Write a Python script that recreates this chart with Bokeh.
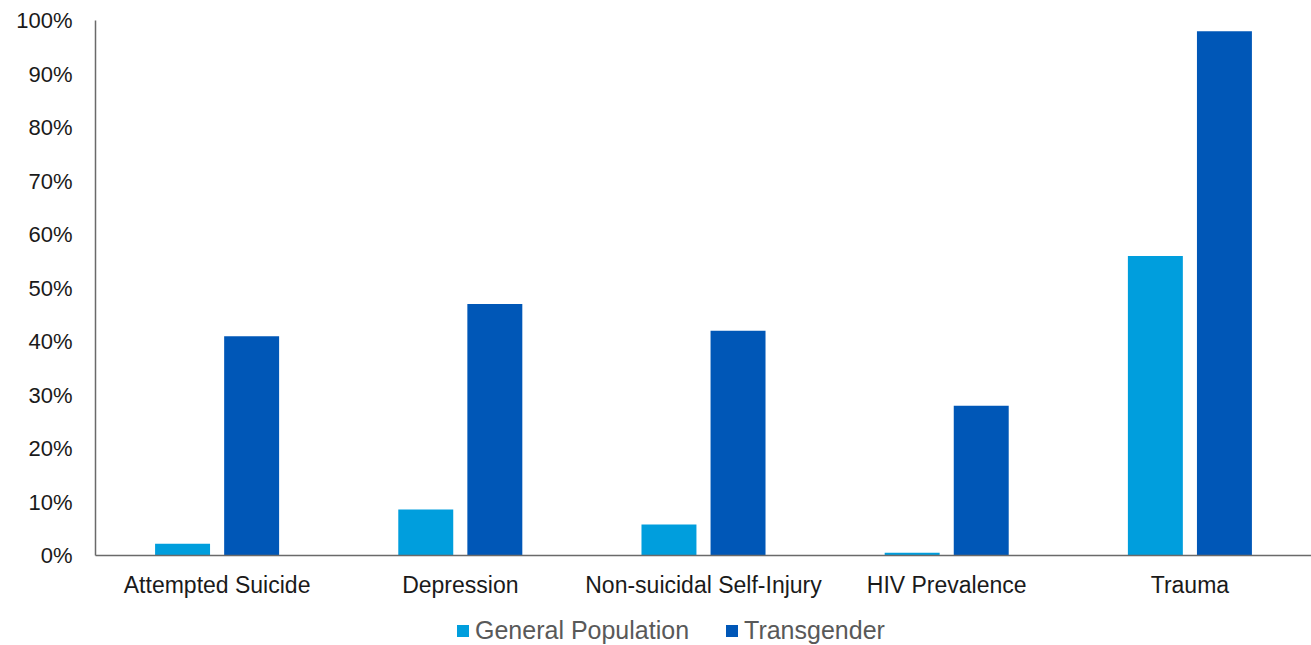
from bokeh.plotting import figure
from bokeh.layouts import column
from bokeh.models import (ColumnDataSource, FactorRange, Range1d, FixedTicker,
                          NumeralTickFormatter, Legend, LegendItem)
from bokeh.transform import dodge
from bokeh.embed import file_html
from bokeh.resources import INLINE

categories = ["Attempted Suicide", "Depression", "Non-suicidal Self-Injury",
              "HIV Prevalence", "Trauma"]
general_population = [0.022, 0.086, 0.058, 0.005, 0.56]
transgender = [0.41, 0.47, 0.42, 0.28, 0.98]
y_ticks = [0, 0.1, 0.2, 0.3, 0.4, 0.5, 0.6, 0.7, 0.8, 0.9, 1.0]
series_names = ["General Population", "Transgender"]

GEN_COLOR = "#009EDD"
TRANS_COLOR = "#0057B7"
FONT = "Liberation Sans"

source = ColumnDataSource(dict(cat=categories, gen=general_population, trans=transgender))

p = figure(width=1311, height=600, output_backend="svg", toolbar_location=None,
           x_range=FactorRange(*categories, range_padding=0),
           y_range=Range1d(0, 1.0),
           min_border_left=95, min_border_right=0, min_border_top=20,
           min_border_bottom=45)

p.outline_line_color = None
p.xgrid.grid_line_color = None
p.ygrid.grid_line_color = None
p.background_fill_color = "white"
p.border_fill_color = "white"

p.vbar(x=dodge("cat", -0.142, range=p.x_range), top="gen", width=0.226,
       source=source, fill_color=GEN_COLOR, line_color=None)
p.vbar(x=dodge("cat", 0.142, range=p.x_range), top="trans", width=0.226,
       source=source, fill_color=TRANS_COLOR, line_color=None)

# y axis
p.yaxis.ticker = FixedTicker(ticks=y_ticks)
p.yaxis.formatter = NumeralTickFormatter(format="0%")
p.yaxis.major_tick_line_color = None
p.yaxis.minor_tick_line_color = None
p.yaxis.axis_line_color = "#6a6a6a"
p.yaxis.axis_line_width = 1.5
p.yaxis.major_label_text_font = FONT
p.yaxis.major_label_text_font_size = "22px"
p.yaxis.major_label_text_color = "#1a1a1a"
p.yaxis.major_label_standoff = 17

# x axis
p.xaxis.major_tick_line_color = None
p.xaxis.minor_tick_line_color = None
p.xaxis.axis_line_color = "#6a6a6a"
p.xaxis.axis_line_width = 1.5
p.xaxis.major_label_text_font = FONT
p.xaxis.major_label_text_font_size = "23px"
p.xaxis.major_label_text_color = "#1a1a1a"
p.xaxis.major_label_standoff = 10

# legend strip (its bars fall outside its view; only the legend shows)
lg = figure(width=1311, height=45, output_backend="svg", toolbar_location=None,
            x_range=FactorRange(*categories, range_padding=0), y_range=Range1d(5, 6),
            min_border_left=0, min_border_right=0, min_border_top=0, min_border_bottom=0)
lg.axis.visible = False
lg.grid.visible = False
lg.outline_line_color = None
lg.border_fill_color = "white"
lg.background_fill_color = "white"
lr1 = lg.vbar(x="cat", top="gen", width=0.2, source=source, fill_color=GEN_COLOR, line_color=None)
lr2 = lg.vbar(x="cat", top="trans", width=0.2, source=source, fill_color=TRANS_COLOR, line_color=None)

legend = Legend(items=[LegendItem(label=series_names[0], renderers=[lr1]),
                       LegendItem(label=series_names[1], renderers=[lr2])],
                orientation="horizontal", location=(360, 0),
                label_text_font=FONT, label_text_font_size="25px",
                label_text_color="#595959",
                glyph_width=15, glyph_height=15, label_standoff=5, spacing=35,
                border_line_color=None, background_fill_alpha=0,
                padding=2, margin=0)
lg.add_layout(legend, "center")

layout = column(p, lg, spacing=0)
open("out.html", "w").write(file_html(layout, INLINE))
